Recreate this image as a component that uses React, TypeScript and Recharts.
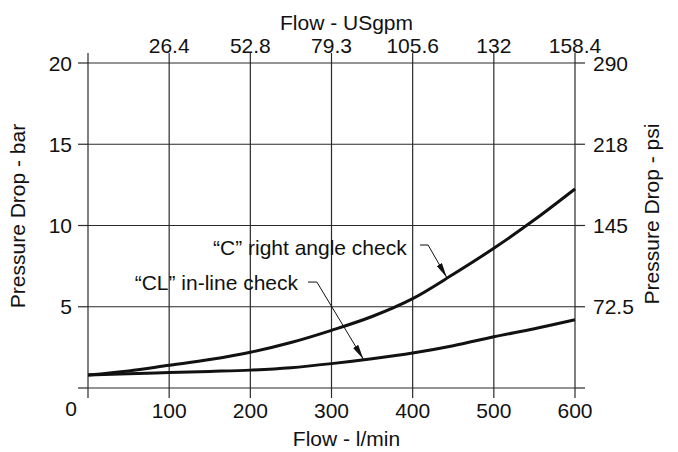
import {
  CartesianGrid,
  Label,
  Line,
  LineChart,
  ReferenceDot,
  ReferenceLine,
  XAxis,
  YAxis,
} from 'recharts';

const FONT = '"Liberation Sans", Arial, Helvetica, sans-serif';
const INK = '#111';
const GRID = '#2a2a2a';

// flow in l/min, pressure drop in bar
const flowLpm = [0, 50, 100, 150, 200, 250, 300, 350, 400, 450, 500, 550, 600];
const rightAngleBar = [0.8, 1.05, 1.4, 1.75, 2.2, 2.8, 3.55, 4.4, 5.5, 7.0, 8.6, 10.35, 12.25];
const inLineBar = [0.8, 0.88, 0.95, 1.02, 1.1, 1.25, 1.5, 1.8, 2.15, 2.6, 3.15, 3.65, 4.2];

const flowTicks = [0, 100, 200, 300, 400, 500, 600];
const gpmLabels = ['', '26.4', '52.8', '79.3', '105.6', '132', '158.4'];
const barTicks = [0, 5, 10, 15, 20];
const barLabels = ['', '5', '10', '15', '20'];
const psiLabels = ['', '72.5', '145', '218', '290'];

const data = flowLpm.map((flow, i) => ({
  flow,
  rightAngle: rightAngleBar[i],
  inLine: inLineBar[i],
}));

const textProps = { fontFamily: FONT, fontSize: 21, fill: INK };

function BottomTick({ x, y, payload }: any) {
  const zero = payload.value === 0;
  return (
    <text {...textProps} x={zero ? x - 17 : x} y={y} dy={zero ? 18 : 20} textAnchor="middle">
      {payload.value}
    </text>
  );
}

function TopTick({ x, y, index }: any) {
  return (
    <text {...textProps} x={x} y={y} textAnchor="middle">
      {gpmLabels[index]}
    </text>
  );
}

function LeftTick({ x, y, index }: any) {
  return (
    <text {...textProps} x={x} y={y} dy={7.5} textAnchor="end">
      {barLabels[index]}
    </text>
  );
}

function RightTick({ x, y, index }: any) {
  return (
    <text {...textProps} x={x} y={y} dy={7.5} textAnchor="start">
      {psiLabels[index]}
    </text>
  );
}

function ArrowLine(props: any) {
  const { x1, y1, x2, y2, arrow } = props;
  return (
    <line
      x1={x1}
      y1={y1}
      x2={x2}
      y2={y2}
      stroke={INK}
      strokeWidth={1}
      markerEnd={arrow ? 'url(#arrowHead)' : undefined}
    />
  );
}

function Note(text: string) {
  return ({ cx, cy }: any) => (
    <text {...textProps} x={cx} y={cy} textAnchor="end">
      {text}
    </text>
  );
}

export default function App() {
  return (
    <div style={{ position: 'fixed', left: 0, top: 0, background: '#fff' }}>
      <LineChart width={678} height={452} data={data} margin={{ top: 0, right: 0, bottom: 0, left: 0 }}>
        <defs>
          <marker
            id="arrowHead"
            markerUnits="userSpaceOnUse"
            markerWidth={15}
            markerHeight={6}
            refX={15}
            refY={3}
            orient="auto"
          >
            <path d="M0,0 L15,3 L0,6 z" fill={INK} />
          </marker>
        </defs>
        <CartesianGrid xAxisId="bottom" yAxisId="left" stroke={GRID} strokeWidth={1.2} />
        <XAxis
          xAxisId="bottom"
          dataKey="flow"
          type="number"
          domain={[0, 600]}
          ticks={flowTicks}
          height={64}
          axisLine={false}
          tickSize={10}
          tickMargin={0}
          tickLine={{ stroke: GRID, strokeWidth: 1.2 }}
          tick={<BottomTick />}
          interval={0}
        >
          <Label
            content={({ viewBox }: any) => (
              <text {...textProps} x={viewBox.x + viewBox.width / 2 + 15} y={viewBox.y + 58} textAnchor="middle">
                Flow - l/min
              </text>
            )}
          />
        </XAxis>
        <XAxis
          xAxisId="top"
          orientation="top"
          dataKey="flow"
          type="number"
          domain={[0, 600]}
          ticks={flowTicks}
          height={63}
          axisLine={false}
          tickSize={10}
          tickMargin={0}
          tickLine={{ stroke: GRID, strokeWidth: 1.2 }}
          tick={<TopTick />}
          interval={0}
        >
          <Label
            content={({ viewBox }: any) => (
              <text {...textProps} x={viewBox.x + viewBox.width / 2 + 15} y={viewBox.y + 29.5} textAnchor="middle">
                Flow - USgpm
              </text>
            )}
          />
        </XAxis>
        <YAxis
          yAxisId="left"
          type="number"
          domain={[0, 20]}
          ticks={barTicks}
          width={88}
          axisLine={false}
          tickSize={10}
          tickMargin={6}
          tickLine={{ stroke: GRID, strokeWidth: 1.2 }}
          tick={<LeftTick />}
          interval={0}
        >
          <Label
            content={({ viewBox }: any) => {
              const cx = viewBox.x + 24.5;
              const cy = viewBox.y + viewBox.height / 2 - 9.5;
              return (
                <text {...textProps} x={cx} y={cy} textAnchor="middle" transform={`rotate(-90, ${cx}, ${cy})`}>
                  Pressure Drop - bar
                </text>
              );
            }}
          />
        </YAxis>
        <YAxis
          yAxisId="right"
          orientation="right"
          dataKey="rightAngle"
          type="number"
          domain={[0, 20]}
          ticks={barTicks}
          width={103}
          axisLine={false}
          tickSize={10}
          tickMargin={8}
          tickLine={{ stroke: GRID, strokeWidth: 1.2 }}
          tick={<RightTick />}
          interval={0}
        >
          <Label
            content={({ viewBox }: any) => {
              const cx = viewBox.x + 84;
              const cy = viewBox.y + viewBox.height / 2 - 11.5;
              return (
                <text {...textProps} x={cx} y={cy} textAnchor="middle" transform={`rotate(-90, ${cx}, ${cy})`}>
                  Pressure Drop - psi
                </text>
              );
            }}
          />
        </YAxis>
        <Line
          xAxisId="bottom"
          yAxisId="left"
          type="monotone"
          dataKey="rightAngle"
          stroke={INK}
          strokeWidth={3}
          dot={false}
          isAnimationActive={false}
        />
        <Line
          xAxisId="bottom"
          yAxisId="left"
          type="monotone"
          dataKey="inLine"
          stroke={INK}
          strokeWidth={3}
          dot={false}
          isAnimationActive={false}
        />
        <ReferenceDot xAxisId="bottom" yAxisId="left" x={392.7} y={8.18} r={0} ifOverflow="visible" shape={Note('\u201cC\u201d right angle check')} />
        <ReferenceLine
          xAxisId="bottom"
          yAxisId="left"
          segment={[{ x: 409, y: 8.8 }, { x: 419, y: 8.8 }]}
          shape={(p: any) => <ArrowLine {...p} />}
        />
        <ReferenceLine
          xAxisId="bottom"
          yAxisId="left"
          segment={[{ x: 419, y: 8.8 }, { x: 442, y: 6.8 }]}
          shape={(p: any) => <ArrowLine {...p} arrow />}
        />
        <ReferenceDot xAxisId="bottom" yAxisId="left" x={258.8} y={6.03} r={0} ifOverflow="visible" shape={Note('\u201cCL\u201d in-line check')} />
        <ReferenceLine
          xAxisId="bottom"
          yAxisId="left"
          segment={[{ x: 271, y: 6.52 }, { x: 282, y: 6.52 }]}
          shape={(p: any) => <ArrowLine {...p} />}
        />
        <ReferenceLine
          xAxisId="bottom"
          yAxisId="left"
          segment={[{ x: 282, y: 6.52 }, { x: 339.3, y: 1.77 }]}
          shape={(p: any) => <ArrowLine {...p} arrow />}
        />
      </LineChart>
    </div>
  );
}
